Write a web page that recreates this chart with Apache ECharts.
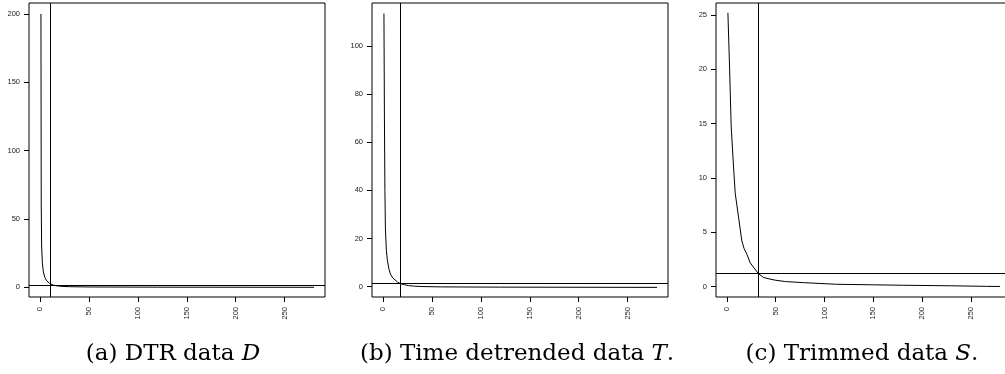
<!DOCTYPE html>
<html lang="en">

<head>
    <meta charset="utf-8">
    <title>DTR / detrended / trimmed</title>
    <style>
        html, body { margin: 0; padding: 0; background: #fff; }
        #main { width: 1005px; height: 374px; }
    </style>
</head>

<body>
    <div id="main"></div>
    <script src="https://cdn.jsdelivr.net/npm/echarts@6/dist/echarts.min.js"></script>
    <script>
        // (a) DTR data D
        var xA = [1, 1.3, 1.7, 2.5, 3.5, 5, 7, 10, 14, 20, 30, 50, 120, 280];
        var yA = [200, 60, 30, 17, 11, 7, 4.5, 2.6, 1.3, 0.6, 0.25, 0.05, -0.1, -0.2];
        // (b) time detrended data T
        var xB = [1, 1.5, 2, 2.5, 3.5, 4.5, 6, 7.5, 10, 12, 15, 17.5, 22, 26, 32, 40, 60, 120, 280];
        var yB = [113.5, 70, 40, 24, 15, 11, 7.5, 5.3, 3.6, 2.8, 1.9, 1.3, 0.8, 0.45, 0.2, 0.05, -0.1, -0.2, -0.3];
        // (c) trimmed data S
        var xC = [1, 2.7, 4.4, 6.8, 8.5, 11.9, 15.3, 17.6, 20.4, 23.8, 27.2, 32, 37.4, 44, 49.4, 60, 78.4, 112.6, 150, 180.8, 230, 266, 280];
        var yC = [25.2, 20.2, 14.7, 11, 8.6, 6.4, 4.2, 3.5, 3.0, 2.2, 1.8, 1.23, 0.85, 0.7, 0.6, 0.47, 0.37, 0.22, 0.17, 0.13, 0.08, 0.03, 0.02];

        var xTicks = [0, 50, 100, 150, 200, 250];
        var yTicksA = [0, 50, 100, 150, 200];
        var yTicksB = [0, 20, 40, 60, 80, 100];
        var yTicksC = [0, 5, 10, 15, 20, 25];

        // cut-off lines (vertical x, horizontal y)
        var cutX = [10, 17.5, 32];
        var cutY = [1.25, 1.25, 1.23];

        var captions = ['(a) DTR data {i|D}', '(b) Time detrended data {i|T}.', '(c) Trimmed data {i|S}.'];
        var captionX = [168, 512, 857];

        function zip(xs, ys) {
            return xs.map(function (x, i) { return [x, ys[i]]; });
        }

        var panels = [
            { left: 29, width: 296, data: zip(xA, yA), yTicks: yTicksA, ymin: -7.3, ymax: 208 },
            { left: 372, width: 296, data: zip(xB, yB), yTicks: yTicksB, ymin: -4.3, ymax: 117.9 },
            { left: 716, width: 295, data: zip(xC, yC), yTicks: yTicksC, ymin: -0.95, ymax: 26.1 }
        ];

        var labelFont = { fontFamily: 'Liberation Sans', fontSize: 7.5, color: '#222' };
        var capFont = 'DejaVu Serif';

        var chart = echarts.init(document.getElementById('main'), null, { renderer: 'canvas' });

        var grid = [], xAxis = [], yAxis = [], series = [], title = [];
        panels.forEach(function (p, i) {
            grid.push({
                left: p.left, top: 3, width: p.width, height: 294,
                show: true, borderColor: '#000', borderWidth: 1,
                backgroundColor: 'transparent',
                containLabel: false, outerBoundsMode: 'none'
            });
            xAxis.push({
                type: 'value', gridIndex: i, min: -11.2, max: 291.2, position: 'bottom',
                axisLine: { show: false, onZero: false },
                axisTick: { show: true, inside: false, length: 5, customValues: xTicks, lineStyle: { color: '#000' } },
                axisLabel: Object.assign({ customValues: xTicks, rotate: 90, margin: 10 }, labelFont),
                splitLine: { show: false }
            });
            yAxis.push({
                type: 'value', gridIndex: i, min: p.ymin, max: p.ymax, position: 'left',
                axisLine: { show: false, onZero: false },
                axisTick: { show: true, inside: false, length: 5, customValues: p.yTicks, lineStyle: { color: '#000' } },
                axisLabel: Object.assign({ customValues: p.yTicks, margin: 9 }, labelFont),
                splitLine: { show: false }
            });
            series.push({
                type: 'line', xAxisIndex: i, yAxisIndex: i,
                data: p.data, showSymbol: false, symbol: 'none',
                lineStyle: { color: '#000', width: 1 },
                markLine: {
                    silent: true, symbol: 'none', label: { show: false },
                    lineStyle: { color: '#000', width: 1, type: 'solid' },
                    data: [{ xAxis: cutX[i] }, { yAxis: cutY[i] }]
                }
            });
            title.push({
                text: captions[i], left: captionX[i], top: 338, textAlign: 'center',
                textStyle: {
                    fontFamily: capFont, fontSize: 23, fontWeight: 'normal', color: '#000',
                    rich: { i: { fontFamily: capFont, fontSize: 23, fontStyle: 'italic', color: '#000' } }
                }
            });
        });

        chart.setOption({
            animation: false,
            title: title,
            grid: grid,
            xAxis: xAxis,
            yAxis: yAxis,
            series: series
        });
        window.onresize = chart.resize;
    </script>
</body>

</html>
